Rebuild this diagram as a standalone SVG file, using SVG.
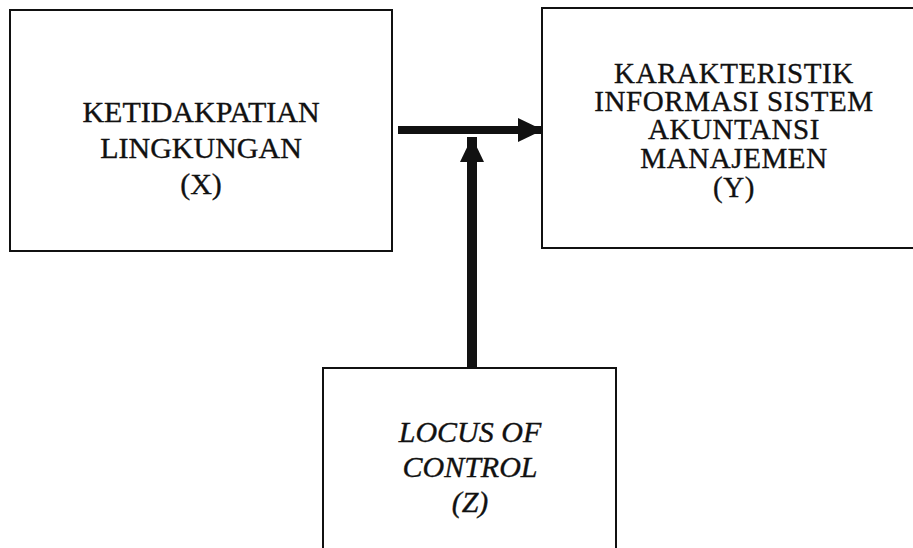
<svg xmlns="http://www.w3.org/2000/svg" width="913" height="548" viewBox="0 0 913 548">
<style>
.box{fill:#fff;stroke:#111;stroke-width:2}
.t{font-family:"Liberation Serif","Times New Roman",serif;font-size:30px;fill:#111;stroke:#111;stroke-width:0.35;text-anchor:middle}
.r{font-size:29px;letter-spacing:0.6px}
.i{font-style:italic}
.c{stroke:#111;fill:none}
</style>
<defs>
<marker id="ah" markerUnits="userSpaceOnUse" markerWidth="26" markerHeight="26" refX="25" refY="12" orient="auto" viewBox="0 0 26 24">
<path d="M0,0 L25,12 L0,24 Z" fill="#111"/>
</marker>
</defs>
<rect width="913" height="548" fill="#fff"/>
<g id="node-x">
<rect class="box" x="10" y="10" width="382" height="241"/>
<text class="t" x="201" y="122">KETIDAKPATIAN</text>
<text class="t" x="201" y="158">LINGKUNGAN</text>
<text class="t" x="201" y="194">(X)</text>
</g>
<g id="node-y">
<rect class="box" x="542" y="8" width="380" height="240"/>
<text class="t r" x="734" y="83">KARAKTERISTIK</text>
<text class="t r" x="734" y="111">INFORMASI SISTEM</text>
<text class="t r" x="734" y="139">AKUNTANSI</text>
<text class="t r" x="734" y="168">MANAJEMEN</text>
<text class="t r" x="734" y="197">(Y)</text>
</g>
<g id="node-z">
<rect class="box" x="323" y="368" width="293" height="200"/>
<text class="t i" x="470" y="442">LOCUS OF</text>
<text class="t i" x="470" y="477">CONTROL</text>
<text class="t i" x="470" y="512">(Z)</text>
</g>
<g id="connectors">
<path class="c" d="M398,130 L543,130" stroke-width="8" marker-end="url(#ah)"/>
<path class="c" d="M472,367 L472,137" stroke-width="10" marker-end="url(#ah)"/>
</g>
</svg>
